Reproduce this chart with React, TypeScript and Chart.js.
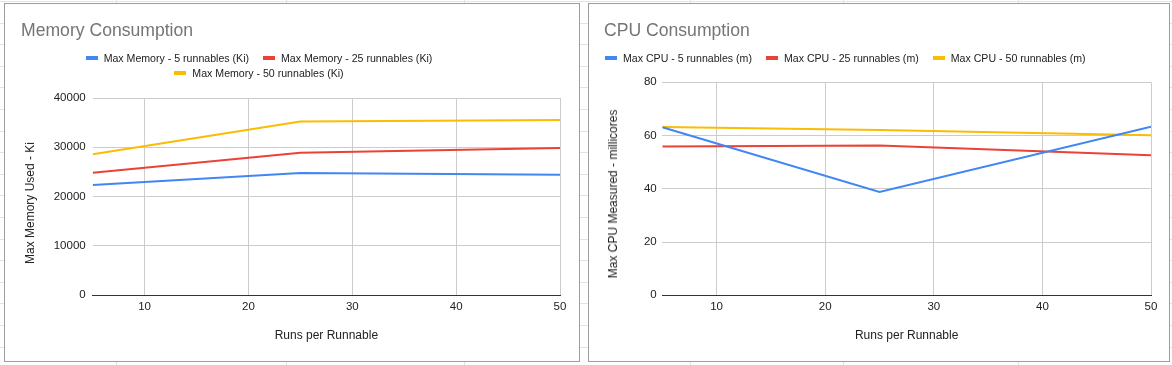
import React, { useEffect, useRef } from 'react';
import { Chart, registerables } from 'chart.js';

Chart.register(...registerables);

// ---------- data ----------
const runsPerRunnable = [5, 25, 50];
const xTickValues = [10, 20, 30, 40, 50];

const memoryLabels = [
  'Max Memory - 5 runnables (Ki)',
  'Max Memory - 25 runnables (Ki)',
  'Max Memory - 50 runnables (Ki)',
];
const memory5 = [22350, 24750, 24400];
const memory25 = [24800, 28900, 29850];
const memory50 = [28600, 35250, 35550];
const memoryTicks = [0, 10000, 20000, 30000, 40000];

const cpuLabels = [
  'Max CPU - 5 runnables (m)',
  'Max CPU - 25 runnables (m)',
  'Max CPU - 50 runnables (m)',
];
const cpu5 = [63.1, 38.8, 63.3];
const cpu25 = [55.9, 56.3, 52.6];
const cpu50 = [63.2, 62.1, 60.1];
const cpuTicks = [0, 20, 40, 60, 80];

const seriesColors = ['#4285F4', '#EA4335', '#FBBC04'];

const FONT = "'Liberation Sans', Arial, Helvetica, sans-serif";

type PanelProps = {
  boxLeft: number;
  boxWidth: number;
  title: string;
  titleLeft: number;
  labels: string[];
  series: number[][];
  yTicks: number[];
  yTitle: string;
  xTitle: string;
  legendLeft: number;
  legendWidth: number;
  legendJustify: string;
  yAxisWidth: number;
  padTop: number;
  padRight: number;
  xAxisHeight: number;
  yTitleX: number;
  yTitleY: number;
  yTickPad: number;
};

const BOX_TOP = 3;
const BOX_HEIGHT = 359;

function Panel(p: PanelProps) {
  const ref = useRef<HTMLCanvasElement | null>(null);
  const innerW = p.boxWidth - 2;
  const innerH = BOX_HEIGHT - 2;

  useEffect(() => {
    if (!ref.current) return;
    const chart = new Chart(ref.current, {
      type: 'line',
      data: {
        datasets: p.series.map((ys, i) => ({
          label: p.labels[i],
          data: runsPerRunnable.map((x, j) => ({ x, y: ys[j] })),
          borderColor: seriesColors[i],
          backgroundColor: seriesColors[i],
          borderWidth: 2,
          pointRadius: 0,
          pointHoverRadius: 0,
          tension: 0,
          fill: false,
        })),
      },
      options: {
        animation: false,
        responsive: false,
        maintainAspectRatio: false,
        devicePixelRatio: 1,
        events: [],
        layout: { padding: { top: p.padTop, right: p.padRight, left: 0, bottom: 0 } },
        plugins: {
          legend: { display: false },
          title: { display: false },
          tooltip: { enabled: false },
        },
        scales: {
          x: {
            type: 'linear',
            min: runsPerRunnable[0],
            max: runsPerRunnable[runsPerRunnable.length - 1],
            afterBuildTicks: (s: any) => {
              s.ticks = xTickValues.map((v) => ({ value: v }));
            },
            afterFit: (s: any) => {
              s.height = p.xAxisHeight;
            },
            ticks: {
              autoSkip: false,
              maxRotation: 0,
              padding: 5,
              color: '#222',
              font: { family: FONT, size: 11.5 },
              callback: (v: any) => String(v),
            },
            grid: { color: '#cccccc', drawTicks: false, lineWidth: 1 },
            border: { display: true, color: '#333333', width: 1 },
            title: {
              display: true,
              text: p.xTitle,
              color: '#222',
              font: { family: FONT, size: 12 },
              padding: { top: 0, bottom: 17.8 },
            },
          },
          y: {
            type: 'linear',
            min: p.yTicks[0],
            max: p.yTicks[p.yTicks.length - 1],
            afterBuildTicks: (s: any) => {
              s.ticks = p.yTicks.map((v) => ({ value: v }));
            },
            afterFit: (s: any) => {
              s.width = p.yAxisWidth;
            },
            ticks: {
              padding: p.yTickPad,
              color: '#222',
              font: { family: FONT, size: 11.5 },
              callback: (v: any) => String(v),
            },
            grid: { color: '#cccccc', drawTicks: false, lineWidth: 1 },
            border: { display: false },
            title: { display: false },
          },
        },
      } as any,
    });
    return () => chart.destroy();
  }, []);

  return (
    <div
      style={{
        position: 'absolute',
        left: p.boxLeft,
        top: BOX_TOP,
        width: p.boxWidth,
        height: BOX_HEIGHT,
        boxSizing: 'border-box',
        border: '1px solid #9e9e9e',
        background: '#ffffff',
        fontFamily: FONT,
      }}
    >
      <canvas
        ref={ref}
        width={innerW}
        height={innerH}
        style={{ position: 'absolute', left: 0, top: 0, width: innerW, height: innerH }}
      />
      <div
        style={{
          position: 'absolute',
          left: p.titleLeft,
          top: 17,
          fontSize: 17.6,
          lineHeight: '18px',
          color: '#757575',
          whiteSpace: 'nowrap',
        }}
      >
        {p.title}
      </div>
      <div
        style={{
          position: 'absolute',
          left: p.yTitleX,
          top: p.yTitleY,
          transform: 'translate(-50%, -50%) rotate(-90deg)',
          fontSize: 12,
          lineHeight: '14px',
          color: '#222',
          whiteSpace: 'nowrap',
        }}
      >
        {p.yTitle}
      </div>
      <div
        style={{
          position: 'absolute',
          left: p.legendLeft,
          top: 46.6,
          width: p.legendWidth,
          display: 'flex',
          flexWrap: 'wrap',
          justifyContent: p.legendJustify,
          columnGap: 14,
          rowGap: 0,
          fontSize: 10.6,
          lineHeight: '15px',
          color: '#222',
        }}
      >
        {p.labels.map((l, i) => (
          <div key={l} style={{ display: 'flex', alignItems: 'center', whiteSpace: 'nowrap' }}>
            <span
              style={{
                display: 'inline-block',
                width: 12,
                height: 4,
                background: seriesColors[i],
                marginRight: 6,
              }}
            />
            <span>{l}</span>
          </div>
        ))}
      </div>
    </div>
  );
}

const vLines = [116, 286, 464, 690, 843, 1018];

export default function App() {
  return (
    <div
      style={{
        position: 'fixed',
        left: 0,
        top: 0,
        width: 1172,
        height: 365,
        overflow: 'hidden',
        background: '#ffffff',
        backgroundImage:
          'repeating-linear-gradient(180deg, #e3e3e3 0px, #e3e3e3 1px, transparent 1px, transparent 21.6px)',
        backgroundPosition: '0 1px',
      }}
    >
      {vLines.map((x) => (
        <div
          key={x}
          style={{ position: 'absolute', left: x, top: 0, width: 1, height: 365, background: '#e3e3e3' }}
        />
      ))}
      <Panel
        boxLeft={4}
        boxWidth={576}
        title="Memory Consumption"
        titleLeft={16}
        labels={memoryLabels}
        series={[memory5, memory25, memory50]}
        yTicks={memoryTicks}
        yTitle="Max Memory Used - Ki"
        xTitle="Runs per Runnable"
        legendLeft={64}
        legendWidth={380}
        legendJustify="center"
        yAxisWidth={87.7}
        padTop={94}
        padRight={19}
        xAxisHeight={66}
        yTitleX={24.5}
        yTitleY={199}
        yTickPad={7}
      />
      <Panel
        boxLeft={588}
        boxWidth={582}
        title="CPU Consumption"
        titleLeft={15}
        labels={cpuLabels}
        series={[cpu5, cpu25, cpu50]}
        yTicks={cpuTicks}
        yTitle="Max CPU Measured - millicores"
        xTitle="Runs per Runnable"
        legendLeft={16}
        legendWidth={560}
        legendJustify="flex-start"
        yAxisWidth={73.3}
        padTop={78.3}
        padRight={18}
        xAxisHeight={65.7}
        yTitleX={23.7}
        yTitleY={190}
        yTickPad={5.6}
      />
    </div>
  );
}
